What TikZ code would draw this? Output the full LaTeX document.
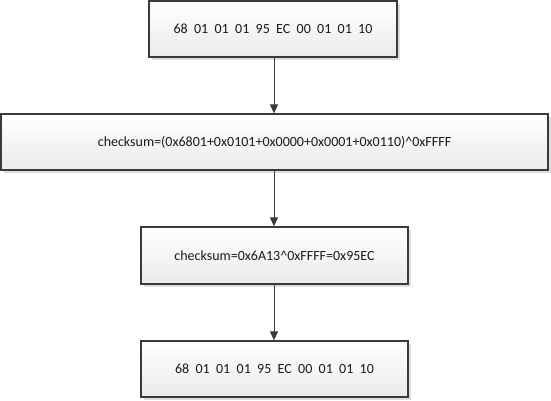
\documentclass[tikz,border=0pt]{standalone}
\usepackage{fontspec}
\setmainfont{Carlito}
\usetikzlibrary{arrows.meta,shadows}
\definecolor{edge}{HTML}{3A3A3A}
\definecolor{txt}{HTML}{1A1A1A}
\tikzset{
  boxnode/.style={draw=edge, line width=1.3pt, rectangle, inner sep=0pt,
    top color=white, bottom color=black!8, shading angle=0,
    text=txt, font=\fontsize{14}{17}\selectfont,
    drop shadow={shadow xshift=3pt, shadow yshift=-3pt, opacity=1, fill=black!13, draw=none}},
  flow/.style={draw=edge, line width=1pt, -{Triangle[length=9pt,width=8pt]}}
}
\begin{document}
\begin{tikzpicture}[x=1pt,y=1pt]
\useasboundingbox (0,0) rectangle (551,-400);
\node[boxnode, minimum width=248pt, minimum height=56pt] (A) at (273,-29) {68\ \ 01\ \ 01\ \ 01\ \ 95\ \ EC\ \ 00\ \ 01\ \ 01\ \ 10};
\node[boxnode, minimum width=547pt, minimum height=56pt] (B) at (274.5,-142) {checksum=(0x6801+0x0101+0x0000+0x0001+0x0110)\^{}0xFFFF};
\node[boxnode, minimum width=267pt, minimum height=57pt] (C) at (274.5,-255.5) {checksum=0x6A13\^{}0xFFFF=0x95EC};
\node[boxnode, minimum width=267pt, minimum height=56pt] (D) at (274.5,-369) {68\ \ 01\ \ 01\ \ 01\ \ 95\ \ EC\ \ 00\ \ 01\ \ 01\ \ 10};
\coordinate (X) at (274,0);
\draw[flow] (A.south -| X) -- (B.north -| X);
\draw[flow] (B.south -| X) -- (C.north -| X);
\draw[flow] (C.south -| X) -- (D.north -| X);
\end{tikzpicture}
\end{document}
